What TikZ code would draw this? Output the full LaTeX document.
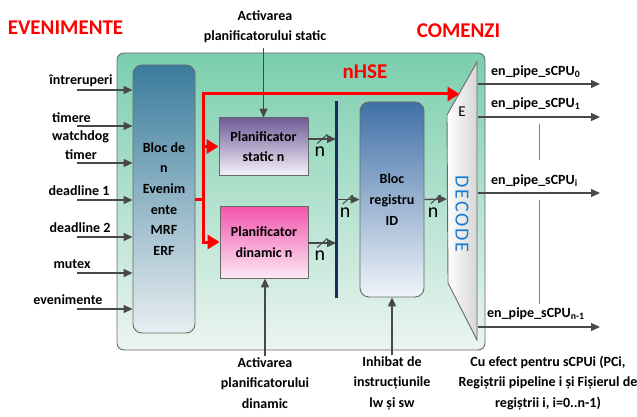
\documentclass[tikz,border=0pt]{standalone}
\usepackage{fontspec}
\setmainfont{Carlito}
\usetikzlibrary{arrows.meta,calc}
\definecolor{greenT}{RGB}{122,206,174}
\definecolor{greenB}{RGB}{236,245,240}
\definecolor{mrfT}{RGB}{58,124,156}
\definecolor{mrfB}{RGB}{232,238,241}
\definecolor{statT}{RGB}{112,92,152}
\definecolor{statB}{RGB}{244,241,248}
\definecolor{dinT}{RGB}{242,84,172}
\definecolor{dinB}{RGB}{252,232,244}
\definecolor{regT}{RGB}{64,112,166}
\definecolor{regB}{RGB}{240,244,250}
\definecolor{bordergray}{RGB}{105,105,105}
\definecolor{arrowgray}{RGB}{72,72,72}
\definecolor{decblue}{RGB}{28,124,208}
\definecolor{navybar}{RGB}{30,42,92}
\begin{document}
\begin{tikzpicture}[x=1pt,y=-1pt,
  lbl/.style={font=\fontsize{14}{20.5}\selectfont\bfseries, inner sep=0, align=center},
  nlbl/.style={font=\fontsize{20}{20}\selectfont, inner sep=0},
  hdr/.style={font=\fontsize{21}{21}\selectfont\bfseries, text=red, inner sep=0},
  garrow/.style={draw=arrowgray, line width=1.3pt, -{Triangle[length=9pt,width=8pt]}},
  gline/.style={draw=arrowgray, line width=1pt},
  redarrow/.style={draw=red, line width=3pt, -{Triangle[length=12pt,width=14pt]}},
  redline/.style={draw=red, line width=3pt},
  blockbox/.style={draw=bordergray, line width=0.9pt, inner sep=0, align=center,
    font=\fontsize{14}{20.7}\selectfont\bfseries},
]
\useasboundingbox (0,0) rectangle (637,417);

% headers
\node[hdr] (ev) at (65.5,28) {EVENIMENTE};
\node[hdr] (com) at (458.5,31) {COMENZI};

% main green box
\node[draw=bordergray, line width=0.9pt, rounded corners=7pt, top color=greenT, bottom color=greenB,
  minimum width=368pt, minimum height=297pt, inner sep=0] (main) at (301,201.5) {};

% blocks
\node[blockbox, rounded corners=9pt, top color=mrfT, bottom color=mrfB,
  minimum width=62pt, minimum height=268pt] (mrf) at (164,199) {Bloc de\\n\\Evenim\\ente\\MRF\\ERF};
\node[blockbox, top color=statT, bottom color=statB,
  minimum width=89pt, minimum height=57pt] (static) at (263.5,146.5) {Planificator\\static n};
\node[blockbox, top color=dinT, bottom color=dinB,
  minimum width=88pt, minimum height=72pt] (dinamic) at (264,242) {Planificator\\dinamic n};
\node[blockbox, rounded corners=9pt, top color=regT, bottom color=regB,
  minimum width=64pt, minimum height=195pt] (reg) at (392,199.5) {Bloc\\registru\\ID};

% DECODE
\draw[draw=bordergray, line width=0.9pt, left color=white, right color=black!16]
  (447,115) -- (477,62) -- (477,340) -- (448,283) -- cycle;
\node[font=\fontsize{20}{20}\selectfont, text=decblue, rotate=-90, inner sep=0] (dec) at (462,214)
  {\addfontfeature{LetterSpace=9}DECODE};
\node[font=\fontsize{15}{15}\selectfont, inner sep=0] (e) at (462,112) {E};

% vertical bar
\coordinate (barT) at (336,101);
\coordinate (barB) at (336,298);
\draw[navybar, line width=3pt] (barT) -- (barB);

% red nHSE path
\node[hdr] (nhse) at (365,72) {nHSE};
\coordinate (rj) at (203,199);
\coordinate (hseend) at (459.5,94);
\draw[redline] (mrf.east) -- (rj);
\draw[redarrow] (rj) |- (static.west);
\draw[redarrow] (rj) |- (dinamic.west);
\draw[redarrow] (rj) |- (hseend);

% bus arrows with slash and n
\coordinate (d1) at (447,199);
\draw[garrow] ([yshift=7.5pt]static.east) -- (barT |- {(0,139)}) coordinate[pos=0.5] (m1);
\draw[gline] (m1) +(-5,4.5) -- +(5,-4.5);
\node[nlbl] (n1) at (320,152) {n};
\draw[garrow] ([yshift=-1pt]dinamic.east) -- (barT |- {(0,243)}) coordinate[pos=0.5] (m2);
\draw[gline] (m2) +(-5,4.5) -- +(5,-4.5);
\node[nlbl] (n2) at (320,256) {n};
\draw[garrow] (barT |- reg.west) -- (reg.west) coordinate[pos=0.5] (m3);
\draw[gline] (m3) +(-5,4.5) -- +(5,-4.5);
\node[nlbl] (n3) at (345,213) {n};
\draw[garrow] (reg.east) -- (d1) coordinate[pos=0.5] (m4);
\draw[gline] (m4) +(-5,4.5) -- +(5,-4.5);
\node[nlbl] (n4) at (433,213) {n};

% inputs
\foreach \yy/\nm in {90/a,126/b,163/c,200/d,237/e,273/f,309/g}{
  \coordinate (in\nm) at (77,\yy);
  \draw[garrow] (in\nm) -- (mrf.west |- in\nm);
}
\node[lbl] (l1) at (81,81) {întreruperi};
\node[lbl, anchor=west] (l2) at (52,118) {timere};
\node[lbl, anchor=west] (l3) at (52,137) {watchdog};
\node[lbl] (l4) at (81,155) {timer};
\node[lbl] (l5) at (79,191) {deadline 1};
\node[lbl] (l6) at (80,228) {deadline 2};
\node[lbl] (l7) at (72,264) {mutex};
\node[lbl] (l8) at (68,300) {evenimente};

% top and bottom labels
\node[lbl] (topact) at (265,26.5) {Activarea\\planificatorului static};
\draw[garrow] (topact.south -| static.north) ++(0,5) -- (static.north);
\node[lbl] (botact) at (265,383) {Activarea\\planificatorului\\dinamic};
\draw[garrow] ([yshift=1pt]botact.north) -- (botact.north |- dinamic.south);
\node[lbl] (inh) at (392,383) {Inhibat de\\instrucțiunile\\lw și sw};
\draw[garrow] ([yshift=1pt]inh.north) -- (inh.north |- reg.south);
\node[lbl] (cu) at (548,383) {Cu efect pentru sCPUi (PCi,\\Regiștrii pipeline i și Fișierul de\\regiștrii i, i=0..n-1)};

% outputs
\foreach \yy/\nm in {84/a,117/b,193/c,327/d}{
  \coordinate (os\nm) at (478,\yy);
  \coordinate (oe\nm) at (600,\yy);
  \draw[garrow] (os\nm) -- (oe\nm);
}
\node[lbl, anchor=west] (o1) at (491,72) {en\_pipe\_sCPU\textsubscript{0}};
\node[lbl, anchor=west] (o2) at (491,104) {en\_pipe\_sCPU\textsubscript{1}};
\node[lbl, anchor=west] (o3) at (491,181) {en\_pipe\_sCPU\textsubscript{i}};
\node[lbl, anchor=west] (o4) at (487,314) {en\_pipe\_sCPU\textsubscript{n-1}};

% dots lines
\coordinate (v1) at (539,124); \coordinate (v2) at (539,160);
\coordinate (v3) at (539,200); \coordinate (v4) at (539,304);
\draw[gray, line width=0.9pt] (v1) -- (v2);
\draw[gray, line width=0.9pt] (v3) -- (v4);
\end{tikzpicture}
\end{document}
